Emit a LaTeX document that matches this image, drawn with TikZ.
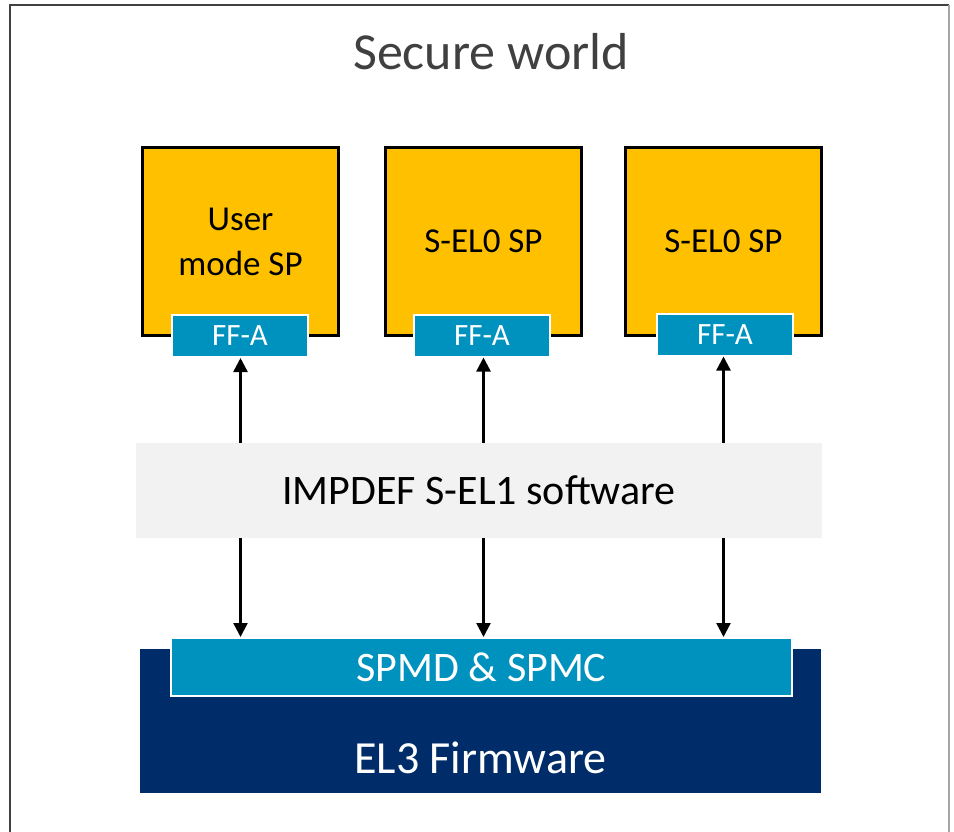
\documentclass[tikz,border=0pt]{standalone}
\usepackage{fontspec}
\setmainfont{Carlito}
\usepackage{xcolor}
\usetikzlibrary{arrows.meta, positioning, calc}

\definecolor{spyellow}{HTML}{FFC000}
\definecolor{ffteal}{HTML}{0092BE}
\definecolor{fwnavy}{HTML}{002D69}
\definecolor{implgray}{HTML}{F2F2F2}
\definecolor{titlegray}{HTML}{404040}

\tikzset{
  spbox/.style={draw=black, line width=2.2pt, fill=spyellow, minimum width=196pt,
    minimum height=188pt, align=center, inner sep=0pt, font=\fontsize{35}{45}\selectfont},
  ffabox/.style={draw=white, line width=2pt, fill=ffteal, text=white, minimum width=136pt,
    minimum height=42pt, inner sep=0pt, font=\fontsize{31}{36}\selectfont},
  link/.style={line width=2.4pt, -{Triangle[length=14pt, width=14pt]}},
}

\begin{document}
\begin{tikzpicture}[x=1pt, y=-1pt]
  \useasboundingbox (0,0) rectangle (954,832);
  % Outer frame
  \draw[line width=2.5pt, black!75] (10,840) |- (949,5);
  \draw[line width=2pt, black!35] (949,5) -- (949,840);
  \node[text=titlegray, font=\fontsize{52}{60}\selectfont] (title) at (491,52) {Secure world};
  % Secure partitions
  \node[spbox] (sp1) at (240.5,241.5) {User\\mode SP};
  \node[spbox] (sp2) at (483.5,241.5) {S-EL0 SP};
  \node[spbox] (sp3) at (723.5,241.5) {S-EL0 SP};
  \node[ffabox] (ffa1) at (240,336) {FF-A};
  \node[ffabox] (ffa2) at (482,335.5) {FF-A};
  \node[ffabox] (ffa3) at (725,334.5) {FF-A};
  % S-EL1 layer
  \node[fill=implgray, minimum width=686pt, minimum height=95pt, inner sep=0pt,
    font=\fontsize{42}{48}\selectfont] (impdef) at (479,490.5) {IMPDEF S-EL1 software};
  % EL3 layer
  \node[fill=fwnavy, minimum width=681pt, minimum height=144pt, inner sep=0pt] (el3) at (480.5,721) {};
  \node[text=white, font=\fontsize{46}{52}\selectfont] (el3txt) at (480.5,758) {EL3 Firmware};
  \node[draw=white, line width=2pt, fill=ffteal, text=white, minimum width=621pt,
    minimum height=58pt, inner sep=0pt, font=\fontsize{42}{48}\selectfont] (spmd) at (481.5,667) {SPMD \& SPMC};
  % Arrows
  \draw[link] (sp1.south |- impdef.north) -- (sp1.south |- ffa1.south);
  \draw[link] (sp2.south |- impdef.north) -- (sp2.south |- ffa2.south);
  \draw[link] (sp3.south |- impdef.north) -- (sp3.south |- ffa3.south);
  \draw[link] (sp1.south |- impdef.south) -- (sp1.south |- spmd.north);
  \draw[link] (sp2.south |- impdef.south) -- (sp2.south |- spmd.north);
  \draw[link] (sp3.south |- impdef.south) -- (sp3.south |- spmd.north);
\end{tikzpicture}
\end{document}
